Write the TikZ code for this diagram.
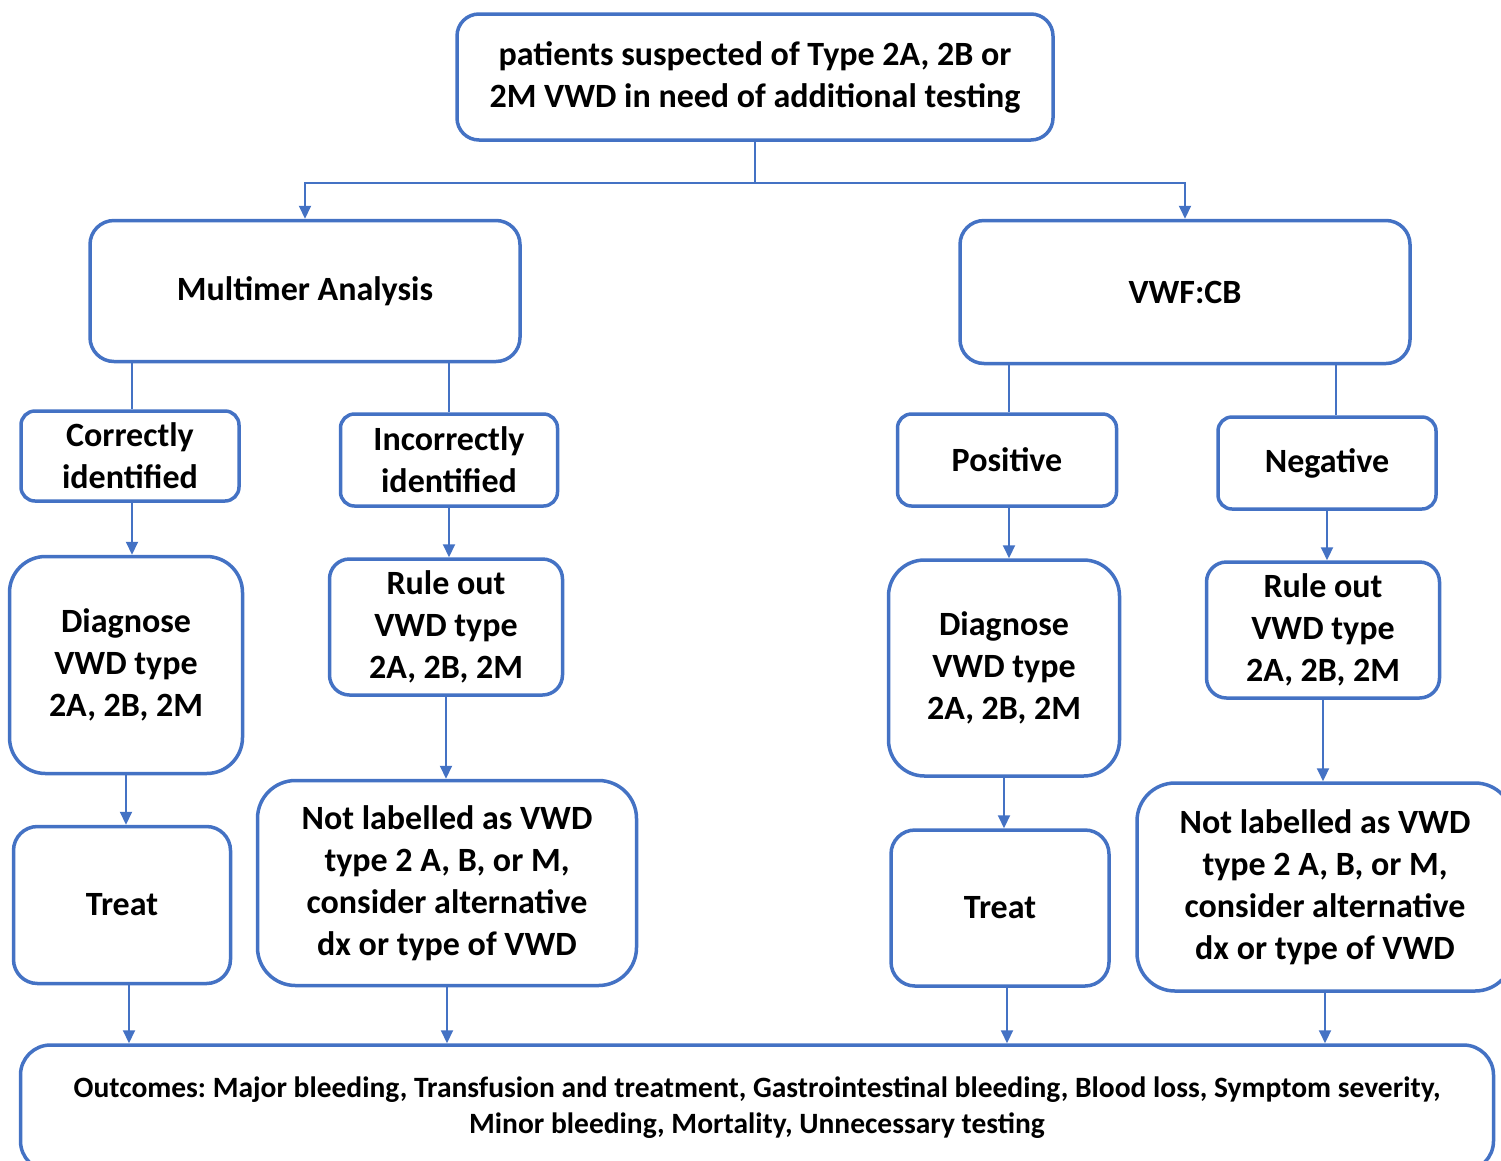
\documentclass[tikz,border=0pt]{standalone}
\usepackage{fontspec}
\setmainfont{Carlito}
\usetikzlibrary{arrows.meta,positioning}
\definecolor{vwdblue}{HTML}{4472C4}
\frenchspacing
\tikzset{
 vwd box/.style={draw=vwdblue,line width=3.5pt,rounded corners=#1,fill=white,
                 align=center,inner sep=0pt,
                 font=\fontsize{34}{42}\selectfont\bfseries},
 vwd box/.default=18pt,
 vwd outcome/.style={vwd box=30pt,font=\fontsize{29.5}{36}\selectfont\bfseries},
 vwd link/.style={draw=vwdblue,line width=2pt},
 vwd arrow/.style={vwd link,-{Triangle[length=13pt,width=12pt]}}
}

\begin{document}
\begin{tikzpicture}[x=1pt,y=-1pt]
 \useasboundingbox (0,0) rectangle (1501,1160);
 % top and first tests
 \node[vwd box=22pt,minimum width=596pt,minimum height=126pt] (susp) at (755,77)
   {patients suspected of Type 2A, 2B or\\2M VWD in need of additional testing};
 \node[vwd box=24pt,minimum width=430pt,minimum height=141pt] (mult) at (305,291)
   {Multimer Analysis};
 \node[vwd box=24pt,minimum width=450pt,minimum height=143pt] (vwfcb) at (1185,292)
   {VWF:CB};
 \coordinate (split) at (755,183);

 % multimer branch
 \node[vwd box=14pt,minimum width=218pt,minimum height=90pt] (corr) at (130,456)
   {Correctly\\identified};
 \node[vwd box=14pt,minimum width=217pt,minimum height=92pt] (incorr) at (449,460)
   {Incorrectly\\identified};
 \node[vwd box=36pt,minimum width=233pt,minimum height=217pt] (diagl) at (126,665)
   {Diagnose\\VWD type\\2A, 2B, 2M};
 \node[vwd box=20pt,minimum width=233pt,minimum height=136pt] (rulel) at (446,627)
   {Rule out\\VWD type\\2A, 2B, 2M};
 \node[vwd box=24pt,minimum width=217pt,minimum height=157pt] (treatl) at (122,905)
   {Treat};
 \node[vwd box=38pt,minimum width=379pt,minimum height=205pt] (notl) at (447,883)
   {Not labelled as VWD\\type 2 A, B, or M,\\consider alternative\\dx or type of VWD};

 % VWF:CB branch
 \node[vwd box=14pt,minimum width=219pt,minimum height=92pt] (pos) at (1007,460)
   {Positive};
 \node[vwd box=14pt,minimum width=218pt,minimum height=92pt] (neg) at (1327,463)
   {Negative};
 \node[vwd box=36pt,minimum width=231pt,minimum height=216pt] (diagr) at (1004,668)
   {Diagnose\\VWD type\\2A, 2B, 2M};
 \node[vwd box=20pt,minimum width=233pt,minimum height=136pt] (ruler) at (1323,630)
   {Rule out\\VWD type\\2A, 2B, 2M};
 \node[vwd box=24pt,minimum width=218pt,minimum height=156pt] (treatr) at (1000,908)
   {Treat};
 \node[vwd box=38pt,minimum width=376pt,minimum height=208pt] (notr) at (1325,887)
   {Not labelled as VWD\\type 2 A, B, or M,\\consider alternative\\dx or type of VWD};

 \node[vwd outcome,minimum width=1473pt,minimum height=126pt] (outc) at (757,1108)
   {Outcomes: Major bleeding, Transfusion and treatment, Gastrointestinal bleeding, Blood loss, Symptom severity,\\
    Minor bleeding, Mortality, Unnecessary testing};

 % connectors
 \draw[vwd link] (susp.south) -- (split);
 \draw[vwd arrow] (split) -| (mult.north);
 \draw[vwd arrow] (split) -| (vwfcb.north);
 \draw[vwd link] ([xshift=2pt]corr.north |- mult.south) -- ([xshift=2pt]corr.north);
 \draw[vwd link] (incorr.north |- mult.south) -- (incorr.north);
 \draw[vwd link] ([xshift=2pt]pos.north |- vwfcb.south) -- ([xshift=2pt]pos.north);
 \draw[vwd link] ([xshift=9pt]neg.north |- vwfcb.south) -- ([xshift=9pt]neg.north);
 \draw[vwd arrow] ([xshift=2pt]corr.south) -- ([xshift=2pt]corr.south |- diagl.north);
 \draw[vwd arrow] (incorr.south) -- (incorr.south |- rulel.north);
 \draw[vwd arrow] ([xshift=2pt]pos.south) -- ([xshift=2pt]pos.south |- diagr.north);
 \draw[vwd arrow] (neg.south) -- (neg.south |- ruler.north);
 \draw[vwd arrow] (diagl.south) -- (diagl.south |- treatl.north);
 \draw[vwd arrow] (rulel.south) -- (rulel.south |- notl.north);
 \draw[vwd arrow] (diagr.south) -- (diagr.south |- treatr.north);
 \draw[vwd arrow] (ruler.south) -- (ruler.south |- notr.north);
 \draw[vwd arrow] ([xshift=7pt]treatl.south) -- ([xshift=7pt]treatl.south |- outc.north);
 \draw[vwd arrow] ([xshift=7pt]treatr.south) -- ([xshift=7pt]treatr.south |- outc.north);
 \foreach \b in {notl,notr}
   \draw[vwd arrow] (\b.south) -- (\b.south |- outc.north);
\end{tikzpicture}
\end{document}
